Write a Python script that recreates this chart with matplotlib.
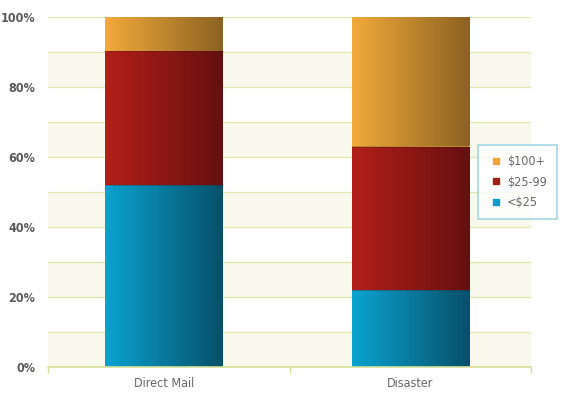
import matplotlib
matplotlib.use('Agg')
import numpy as np
import matplotlib.pyplot as plt
from matplotlib.colors import LinearSegmentedColormap
from matplotlib.lines import Line2D

categories = ['Direct Mail', 'Disaster']
under_25 = [52, 22]
mid_25_99 = [38.4, 41]
over_100 = [9.6, 37]
series_names = ['<\\$25', '\\$25-99', '\\$100+']

# left (light) -> right (dark) colours of each segment
gradients = {
    '<\\$25': ('#0aa3d0', '#07506a'),
    '\\$25-99': ('#b41f19', '#651010'),
    '\\$100+': ('#f2aa3a', '#8c6222'),
}
legend_colors = {'<\\$25': '#0e9ccc', '\\$25-99': '#a61c18', '\\$100+': '#f0a43a'}

plt.rcParams['font.family'] = 'DejaVu Sans'
plt.rcParams['font.stretch'] = 'condensed'

fig = plt.figure(figsize=(5.68, 4.0), dpi=100)
ax = fig.add_axes([0.0845, 0.0825, 0.8505, 0.875])

# alternating bands and grid lines
for i in range(10):
    if i % 2 == 0:
        ax.axhspan(i * 10, i * 10 + 10, color='#f8f9ec', zorder=0, lw=0)
for y in range(10, 101, 10):
    ax.axhline(y, color='#e2e9b0', lw=1.0, zorder=1)

x = np.array([0.48, 1.5])
bottom = np.zeros(len(categories))
grad = np.linspace(0, 1, 256).reshape(1, -1)
for name, vals in zip(series_names, [under_25, mid_25_99, over_100]):
    cmap = LinearSegmentedColormap.from_list(name, gradients[name])
    bars = ax.bar(x, vals, width=0.485, bottom=bottom, facecolor=cmap(0.5),
                  edgecolor='none', zorder=2)
    for b in bars:
        x0, y0 = b.get_x(), b.get_y()
        im = ax.imshow(grad, cmap=cmap, aspect='auto', zorder=2.1,
                       extent=(x0, x0 + b.get_width(), y0, y0 + b.get_height()))
        im.set_clip_path(b)
    bottom += np.array(vals)
# thin separators between segments
for b_top in [under_25, np.add(under_25, mid_25_99)]:
    for xi, yi in zip(x, b_top):
        ax.plot([xi - 0.2425, xi + 0.2425], [yi, yi], color='#3a1a1a',
                lw=0.6, alpha=0.35, zorder=3)
ax.set_xlim(0, 2)
ax.set_ylim(0, 100)

for s in ['top', 'right', 'left']:
    ax.spines[s].set_visible(False)
ax.spines['bottom'].set_color('#d6e09a')
ax.spines['bottom'].set_linewidth(1.2)

ax.set_yticks(range(0, 101, 20))
ax.set_yticklabels([f'{v}%' for v in range(0, 101, 20)], fontsize=9,
                   fontweight='bold', color='#5a5a5a')
ax.tick_params(axis='y', length=0, pad=9)
ax.set_xticks([0, 1, 2], minor=True)
ax.set_xticks(x)
ax.set_xticklabels(categories, fontsize=9, color='#666666')
ax.tick_params(axis='x', which='major', length=0, pad=7)
ax.tick_params(axis='x', which='minor', length=4, color='#d6e09a', width=1)

handles = [Line2D([], [], marker='s', ls='none', markersize=5,
                  color=legend_colors[n]) for n in series_names[::-1]]
leg = fig.legend(handles, series_names[::-1], loc='upper left',
                 bbox_to_anchor=(0.842, 0.637), borderaxespad=0, frameon=True,
                 fancybox=False, fontsize=9, labelcolor='#666666', borderpad=0.8,
                 labelspacing=0.6, handletextpad=0.3, handlelength=1.2)
leg.get_frame().set_edgecolor('#8fcde0')
leg.get_frame().set_linewidth(1.2)

plt.savefig('out.png', dpi=100)
